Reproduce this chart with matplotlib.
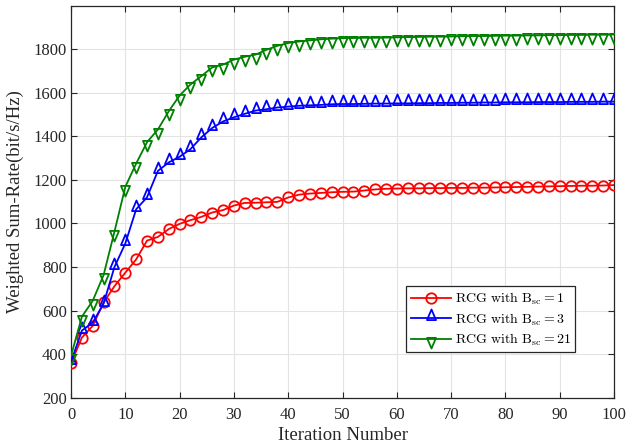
import matplotlib
matplotlib.use("Agg")
import matplotlib.pyplot as plt
from matplotlib.path import Path
from matplotlib.markers import MarkerStyle

# ---------------- data ----------------
iterations = list(range(0, 101, 2))

rate_bsc1 = [358, 476, 530, 637, 712, 774, 835, 921, 938, 974, 998, 1015, 1030, 1050,
             1061, 1082, 1094, 1095, 1097, 1099, 1119, 1132, 1137, 1140, 1143, 1145,
             1146, 1151, 1156, 1159, 1160, 1161, 1161, 1162, 1162, 1163, 1163, 1164,
             1164, 1165, 1166, 1167, 1168, 1169, 1170, 1171, 1172, 1173, 1173, 1174, 1176]

rate_bsc3 = [365, 508, 545, 632, 800, 908, 1065, 1120, 1241, 1280, 1306, 1341, 1395,
             1438, 1468, 1487, 1503, 1518, 1524, 1532, 1536, 1540, 1542, 1544, 1547,
             1548, 1548, 1549, 1550, 1550, 1551, 1551, 1552, 1552, 1553, 1553, 1554,
             1554, 1555, 1555, 1556, 1556, 1556, 1557, 1557, 1557, 1558, 1558, 1558, 1559, 1559]

rate_bsc21 = [392, 572, 645, 763, 962, 1168, 1275, 1373, 1431, 1515, 1587, 1638, 1676,
              1716, 1729, 1752, 1765, 1775, 1797, 1815, 1828, 1835, 1840, 1845, 1848,
              1850, 1851, 1852, 1852, 1853, 1854, 1855, 1856, 1857, 1857, 1858, 1859,
              1860, 1860, 1861, 1862, 1862, 1863, 1863, 1864, 1864, 1865, 1865, 1866, 1866, 1867]

labels = [r'$\mathrm{RCG\ with\ B_{sc}} = 1$',
          r'$\mathrm{RCG\ with\ B_{sc}} = 3$',
          r'$\mathrm{RCG\ with\ B_{sc}} = 21$']
x_ticks = [0, 10, 20, 30, 40, 50, 60, 70, 80, 90, 100]
y_ticks = [200, 400, 600, 800, 1000, 1200, 1400, 1600, 1800]
x_label = "Iteration Number"
y_label = "Weighted Sum-Rate(bit/s/Hz)"

# ---------------- style ----------------
plt.rcParams['font.family'] = ['Liberation Serif', 'DejaVu Serif']
plt.rcParams['mathtext.fontset'] = 'cm'

# triangle markers whose line passes near the base (as in the reference)
up_tri = MarkerStyle(Path([(-0.85, -0.3), (0.85, -0.3), (0.0, 1.7), (-0.85, -0.3)],
                          [Path.MOVETO, Path.LINETO, Path.LINETO, Path.CLOSEPOLY]))
down_tri = MarkerStyle(Path([(-0.85, 0.3), (0.85, 0.3), (0.0, -1.7), (-0.85, 0.3)],
                            [Path.MOVETO, Path.LINETO, Path.LINETO, Path.CLOSEPOLY]))

fig = plt.figure(figsize=(6.28, 4.47), dpi=100)
ax = fig.add_axes([0.1131, 0.1103, 0.8646, 0.8763])

lw = 1.3
ax.plot(iterations, rate_bsc1, color='#ff0000', lw=lw, marker='o', ms=7.5,
        mfc='none', mew=1.3, label=labels[0], zorder=3)
ax.plot(iterations, rate_bsc3, color='#0000ff', lw=lw, marker=up_tri, ms=13,
        mfc='none', mew=1.3, label=labels[1], zorder=3)
ax.plot(iterations, rate_bsc21, color='#008000', lw=lw, marker=down_tri, ms=13,
        mfc='none', mew=1.3, label=labels[2], zorder=3)

ax.set_xlim(0, 100)
ax.set_ylim(200, 1998)
ax.set_xticks(x_ticks)
ax.set_yticks(y_ticks)
ax.grid(True, color='#e3e3e3', lw=0.8)
ax.set_axisbelow(True)

for s in ax.spines.values():
    s.set_color('#262626')
    s.set_linewidth(0.9)
ax.tick_params(direction='in', length=4, width=0.8, colors='#262626',
               labelsize=12, top=True, right=True)
ax.tick_params(axis='x', pad=7)
ax.tick_params(axis='y', pad=3)

ax.set_xlabel(x_label, fontsize=13.5, color='#262626', labelpad=2.5)
ax.set_ylabel(y_label, fontsize=13.5, color='#262626', labelpad=7)

leg = ax.legend(loc='lower right', bbox_to_anchor=(0.929, 0.116), fontsize=10,
                fancybox=False, framealpha=1, edgecolor='#262626',
                handlelength=2.9, handletextpad=0.3, borderpad=0.3,
                labelspacing=0.3, borderaxespad=0)
leg.get_frame().set_linewidth(0.9)

fig.savefig('out.png', dpi=100)
